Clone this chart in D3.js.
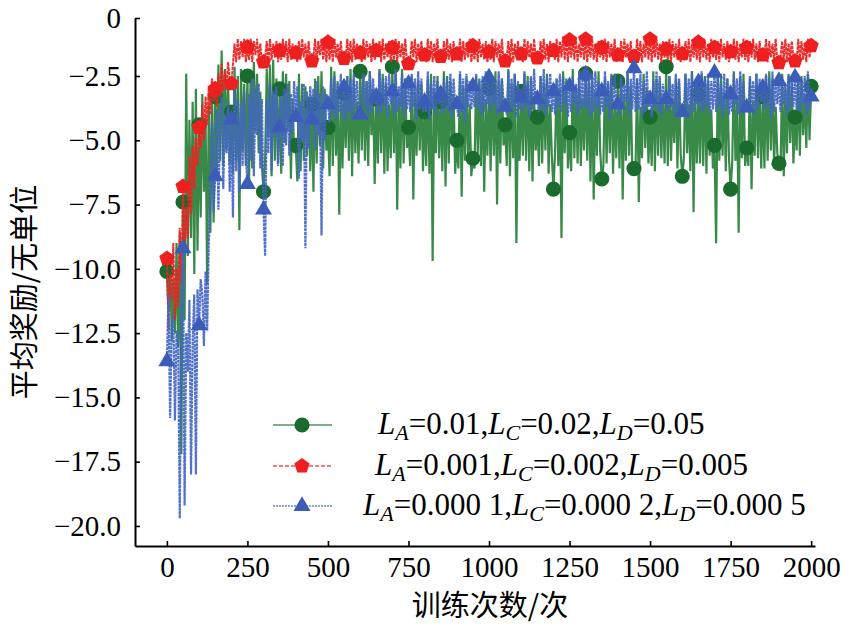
<!DOCTYPE html>
<html><head><meta charset="utf-8">
<script src="https://cdn.jsdelivr.net/npm/d3@7"></script>
<style>body{margin:0;background:#fff}svg{display:block}</style>
</head><body>
<svg id="chart" width="853" height="628"></svg>
<script>
// ---------- data (episode step 5) ----------
const episodes = d3.range(0, 2001, 5);
const xTicks = [0, 250, 500, 750, 1000, 1250, 1500, 1750, 2000];
const yTicks = [0, -2.5, -5, -7.5, -10, -12.5, -15, -17.5, -20];
const seriesNames = ["L_A=0.01,L_C=0.02,L_D=0.05", "L_A=0.001,L_C=0.002,L_D=0.005", "L_A=0.000 1,L_C=0.000 2,L_D=0.000 5"];

const green = [
-10.1,-11.6,-9.4,-12.8,-10.4,-12.5,-9.0,-13.0,-8.6,-17.2,-7.4,-12.0,-2.4,-9.5,-4.2,-8.8,-3.5,-10.2,-3.0,-9.3,
-4.4,-8.0,-3.2,-7.0,-4.0,-10.6,-3.6,-8.6,-2.9,-8.2,-3.3,-6.5,-2.0,-5.8,-1.4,-6.0,-2.2,-5.4,-2.7,-5.9,
-3.9,-6.3,-2.1,-5.8,-2.5,-8.5,-2.2,-5.4,-2.8,-6.0,-2.5,-6.6,-2.3,-6.1,-1.9,-4.7,-2.4,-5.5,-3.1,-6.0,
-7.0,-5.7,-2.2,-4.9,-2.0,-6.4,-1.8,-5.8,-2.6,-5.9,-3.0,-6.3,-2.3,-5.1,-2.4,-4.6,-2.7,-6.5,-3.4,-5.5,
-5.2,-6.6,-2.4,-6.2,-2.8,-5.8,-2.9,-5.6,-3.3,-6.2,-3.6,-7.0,-2.6,-5.9,-2.5,-5.2,-2.3,-6.1,-3.0,-5.4,
-4.5,-6.4,-2.1,-6.0,-2.3,-5.6,-2.7,-7.9,-3.4,-6.1,-3.2,-5.3,-2.5,-5.8,-2.2,-6.4,-2.6,-5.5,-3.5,-5.9,
-2.3,-5.4,-2.5,-5.8,-2.7,-6.0,-2.3,-4.8,-3.0,-6.7,-3.4,-5.9,-2.2,-5.5,-2.4,-6.3,-2.8,-6.2,-3.6,-5.7,
-2.1,-5.5,-2.4,-7.7,-3.3,-6.1,-2.2,-5.9,-2.6,-5.3,-4.5,-6.0,-2.5,-7.3,-3.1,-5.6,-2.7,-5.4,-2.8,-6.2,
-3.9,-6.0,-2.6,-6.3,-2.4,-9.7,-3.0,-5.5,-2.5,-5.7,-3.5,-6.2,-2.3,-6.8,-2.5,-5.9,-2.7,-5.1,-3.2,-6.3,
-5.0,-6.1,-2.4,-7.2,-2.9,-5.8,-2.6,-5.9,-3.6,-6.4,-5.7,-6.1,-2.5,-5.5,-2.6,-6.0,-2.8,-7.0,-3.4,-5.6,
-3.0,-6.2,-2.5,-5.6,-2.3,-7.5,-2.7,-5.9,-2.6,-5.2,-4.4,-6.0,-2.2,-6.4,-2.8,-5.7,-2.4,-9.0,-3.5,-5.8,
-3.1,-5.6,-2.3,-5.8,-2.5,-6.2,-2.6,-6.6,-3.3,-5.4,-4.1,-6.0,-2.5,-5.9,-2.8,-5.4,-2.4,-6.3,-3.6,-5.6,
-6.9,-5.5,-2.6,-6.0,-3.0,-8.8,-2.3,-5.5,-2.6,-6.1,-4.7,-6.2,-2.2,-5.7,-2.9,-5.9,-2.6,-6.0,-3.4,-5.4,
-2.4,-5.8,-2.5,-6.6,-2.7,-7.3,-3.1,-5.6,-2.3,-5.4,-6.5,-6.0,-2.6,-5.9,-2.8,-5.5,-2.4,-6.3,-3.5,-5.7,
-2.7,-6.1,-2.5,-7.3,-3.2,-5.8,-2.3,-5.6,-2.9,-6.2,-6.1,-5.9,-2.6,-7.4,-3.7,-5.7,-2.4,-5.3,-3.0,-5.9,
-4.1,-6.0,-2.3,-6.2,-2.6,-5.6,-2.7,-5.7,-3.3,-5.9,-2.1,-6.0,-2.5,-5.8,-3.4,-5.1,-2.6,-6.1,-2.7,-5.5,
-6.4,-5.7,-2.4,-5.5,-3.6,-6.2,-2.3,-7.8,-2.9,-5.9,-3.2,-5.9,-2.4,-6.0,-2.5,-6.3,-2.7,-5.6,-3.8,-6.1,
-5.2,-9.0,-2.5,-5.8,-2.4,-5.6,-3.1,-6.2,-2.6,-5.7,-6.9,-5.9,-2.3,-5.8,-3.4,-8.6,-2.5,-5.7,-2.4,-6.0,
-5.3,-6.0,-2.6,-6.9,-3.5,-5.6,-2.4,-5.7,-2.9,-6.1,-3.3,-6.1,-2.5,-5.8,-2.3,-5.4,-2.6,-6.0,-3.7,-5.5,
-5.9,-6.2,-2.4,-6.4,-3.0,-5.5,-2.5,-5.1,-2.8,-5.9,-4.1,-5.4,-2.6,-5.6,-2.5,-4.8,-3.2,-5.3,-2.4,-5.0,
-2.9];

const red = [
-9.6,-12.4,-10.2,-11.2,-9.0,-12.0,-10.0,-11.5,-8.4,-10.6,-6.8,-9.2,-7.6,-8.8,-5.6,-7.9,-5.2,-6.9,-4.9,-6.0,
-4.5,-5.3,-3.6,-5.0,-3.3,-4.4,-2.9,-4.0,-2.6,-3.5,-3.0,-3.7,-2.4,-3.3,-2.0,-3.1,-2.3,-3.0,-1.9,-2.6,
-2.8,-2.0,-1.1,-1.9,-0.9,-1.8,-1.0,-1.7,-0.9,-1.9,-1.25,-1.8,-0.9,-1.9,-1.0,-1.6,-0.9,-1.8,-1.1,-2.0,
-1.9,-1.7,-1.0,-1.9,-0.9,-1.8,-1.1,-1.7,-1.0,-1.9,-1.4,-1.8,-0.9,-1.7,-1.0,-1.9,-0.9,-1.8,-1.1,-1.6,
-1.5,-1.9,-1.0,-1.8,-0.9,-1.7,-1.1,-1.9,-1.0,-1.8,-1.85,-1.7,-0.9,-1.9,-1.0,-1.6,-0.9,-1.8,-1.1,-1.9,
-1.05,-1.8,-1.0,-1.9,-0.9,-1.7,-1.1,-1.8,-1.0,-1.9,-1.75,-1.8,-0.9,-1.7,-1.0,-1.9,-0.9,-1.8,-1.1,-1.7,
-1.5,-1.9,-0.9,-1.8,-1.0,-1.7,-1.1,-1.9,-0.9,-1.8,-1.4,-1.7,-1.0,-1.9,-0.9,-1.8,-1.1,-1.7,-1.0,-1.9,
-1.27,-1.8,-0.9,-1.9,-1.0,-1.7,-1.1,-1.8,-0.9,-1.9,-1.97,-1.8,-1.0,-1.7,-0.9,-1.9,-1.1,-1.8,-1.0,-1.7,
-1.6,-1.9,-0.9,-1.8,-1.0,-1.9,-1.1,-1.7,-0.9,-1.8,-1.66,-1.9,-1.0,-1.7,-0.9,-1.8,-1.1,-1.9,-1.0,-1.8,
-1.55,-1.7,-0.9,-1.9,-1.0,-1.8,-1.1,-1.7,-0.9,-1.9,-1.2,-1.8,-1.0,-1.9,-0.9,-1.7,-1.1,-1.8,-1.0,-1.9,
-1.46,-1.8,-0.9,-1.9,-1.0,-1.7,-1.1,-1.8,-0.9,-1.9,-1.85,-1.7,-1.0,-1.8,-0.9,-1.9,-1.1,-1.7,-1.0,-1.8,
-1.55,-1.9,-0.9,-1.8,-1.0,-1.7,-1.1,-1.9,-0.9,-1.8,-1.73,-1.9,-1.0,-1.7,-0.9,-1.8,-1.1,-1.9,-1.0,-1.7,
-1.4,-1.8,-0.9,-1.9,-1.0,-1.7,-0.8,-1.8,-0.9,-1.9,-0.95,-1.7,-1.0,-1.8,-0.9,-1.9,-1.1,-1.7,-0.8,-1.8,
-0.92,-1.9,-1.0,-1.7,-0.9,-1.8,-1.1,-1.9,-1.0,-1.7,-1.27,-1.8,-0.9,-1.9,-1.0,-1.7,-1.1,-1.8,-0.9,-1.9,
-1.6,-1.8,-1.0,-1.9,-0.9,-1.7,-1.1,-1.8,-1.0,-1.9,-1.66,-1.7,-0.9,-1.8,-1.0,-1.9,-1.1,-1.7,-0.8,-1.8,
-0.92,-1.9,-1.0,-1.7,-0.9,-1.8,-1.1,-1.9,-1.0,-1.7,-1.34,-1.8,-0.9,-1.9,-1.0,-1.7,-1.1,-1.8,-0.9,-1.9,
-1.54,-1.7,-1.0,-1.8,-0.9,-1.9,-1.1,-1.7,-1.0,-1.8,-1.05,-1.9,-0.9,-1.7,-1.0,-1.8,-1.1,-1.9,-0.9,-1.7,
-1.27,-1.8,-1.0,-1.9,-0.9,-1.7,-1.1,-1.8,-1.0,-1.9,-1.46,-1.7,-0.9,-1.8,-1.0,-1.9,-1.1,-1.7,-0.9,-1.8,
-1.27,-1.9,-1.0,-1.7,-0.9,-1.8,-1.1,-1.9,-1.0,-1.7,-1.6,-1.8,-0.9,-1.9,-1.0,-1.7,-1.1,-1.8,-0.9,-1.9,
-1.93,-1.7,-1.0,-1.8,-0.9,-1.9,-1.1,-1.7,-1.0,-1.8,-1.85,-1.9,-0.9,-1.7,-1.0,-1.8,-1.1,-1.9,-0.9,-1.7,
-1.2];

const blue = [
-13.6,-11.0,-15.8,-12.2,-11.8,-15.9,-12.4,-13.0,-19.7,-11.5,-9.2,-19.2,-12.5,-14.0,-11.2,-18.0,-12.8,-11.0,-18.0,-10.8,
-12.2,-10.4,-11.0,-13.0,-10.1,-12.4,-9.0,-7.5,-4.3,-7.8,-6.4,-3.8,-7.7,-4.2,-3.3,-6.9,-4.0,-5.5,-3.5,-7.0,
-4.2,-8.0,-3.0,-6.2,-3.4,-7.0,-3.6,-6.0,-3.1,-5.6,-6.7,-3.2,-5.8,-2.6,-6.4,-3.0,-4.8,-2.8,-6.1,-3.4,
-7.7,-9.5,-3.4,-5.5,-2.8,-6.2,-3.1,-4.8,-2.9,-6.0,-4.5,-3.3,-6.0,-3.0,-5.2,-2.8,-5.6,-3.2,-4.7,-2.7,
-4.1,-2.9,-6.5,-3.5,-5.0,-2.8,-9.2,-3.1,-5.3,-2.9,-4.2,-3.0,-5.4,-2.7,-4.8,-3.2,-8.7,-2.9,-5.0,-3.2,
-3.6,-4.3,-2.6,-4.0,-2.5,-4.2,-2.8,-3.9,-2.4,-4.1,-2.95,-4.3,-2.5,-3.9,-2.6,-4.2,-2.4,-3.8,-2.7,-4.0,
-4.0,-3.2,-2.4,-3.8,-2.7,-4.1,-2.3,-3.9,-2.6,-3.6,-3.3,-4.0,-2.3,-3.9,-2.6,-3.7,-2.5,-4.1,-2.4,-3.6,
-3.1,-4.0,-2.2,-3.9,-2.9,-3.7,-2.4,-4.0,-2.6,-3.8,-2.8,-3.9,-2.4,-3.7,-2.6,-4.2,-2.3,-3.8,-2.6,-3.9,
-3.5,-3.9,-2.3,-4.2,-2.8,-3.8,-2.5,-4.0,-2.7,-3.6,-3.2,-4.0,-2.5,-3.8,-2.7,-3.9,-2.4,-4.1,-2.6,-3.7,
-3.6,-4.1,-2.3,-3.9,-2.6,-4.3,-2.4,-3.7,-2.7,-3.8,-2.9,-3.7,-2.4,-3.8,-2.7,-4.0,-2.5,-3.9,-2.3,-3.6,
-2.56,-3.9,-2.5,-3.6,-2.8,-4.0,-2.3,-3.8,-2.6,-3.5,-3.7,-4.0,-2.3,-3.9,-2.6,-3.7,-2.4,-4.1,-2.7,-3.8,
-3.34,-3.9,-2.4,-3.7,-2.7,-4.1,-2.5,-3.8,-2.2,-3.6,-3.4,-3.9,-2.5,-3.8,-2.2,-4.0,-2.6,-3.7,-2.4,-3.9,
-3.1,-4.0,-2.6,-3.7,-2.4,-3.9,-2.5,-3.6,-2.8,-4.1,-2.9,-3.9,-2.5,-3.6,-2.8,-4.0,-2.3,-3.8,-2.6,-3.7,
-2.44,-3.8,-2.6,-4.1,-2.4,-3.9,-2.3,-3.7,-2.7,-4.0,-3.1,-3.9,-2.3,-3.7,-2.7,-4.2,-2.5,-3.8,-2.4,-3.6,
-3.6,-4.0,-2.5,-3.8,-2.8,-3.5,-2.4,-4.0,-2.6,-3.8,-2.17,-3.9,-2.6,-3.8,-2.4,-4.1,-2.7,-3.9,-2.3,-3.7,
-3.4,-4.1,-2.7,-3.7,-2.3,-3.9,-2.5,-4.0,-2.8,-3.6,-3.4,-3.9,-2.5,-3.7,-2.8,-4.0,-2.4,-3.8,-2.6,-4.1,
-3.9,-3.7,-2.4,-3.8,-2.6,-4.0,-2.3,-3.9,-2.7,-3.6,-2.75,-3.8,-2.3,-3.9,-2.6,-3.7,-2.4,-4.0,-2.7,-3.8,
-2.36,-3.9,-2.5,-3.7,-2.8,-4.1,-2.4,-3.8,-2.6,-4.0,-3.2,-3.9,-2.4,-3.6,-2.6,-4.0,-2.3,-3.8,-2.7,-3.9,
-3.73,-3.9,-2.5,-3.7,-2.7,-4.0,-2.4,-3.8,-2.6,-3.5,-2.95,-3.8,-2.4,-3.7,-2.6,-4.1,-2.3,-3.9,-2.7,-3.6,
-2.7,-3.9,-2.5,-3.6,-2.8,-4.0,-2.4,-3.8,-2.6,-3.7,-2.56,-3.8,-2.4,-3.9,-2.7,-3.6,-2.5,-4.0,-2.3,-3.8,
-3.3];

// ---------- drawing ----------
const svg = d3.select("#chart");
const x = d3.scaleLinear().domain([-99, 2012]).range([135, 815]);
// the printed axis is slightly compressed between 0 and -2.5
const y = d3.scaleLinear().domain([-20.78, -2.5, 0]).range([546, 76, 18]);
const serif = "'Liberation Serif','Times New Roman',serif";
const cjk = "'Noto Sans CJK SC','Noto Sans CJK JP',sans-serif";

const pentagon = {
  draw(ctx, size) {
    const r = Math.sqrt(size);
    for (let k = 0; k < 5; k++) {
      const a = -Math.PI / 2 + k * 2 * Math.PI / 5;
      const px = r * Math.cos(a), py = r * Math.sin(a);
      if (k === 0) ctx.moveTo(px, py); else ctx.lineTo(px, py);
    }
    ctx.closePath();
  }
};

const series = [
  {vals: green, stroke: "#237d35", width: 2.2, dash: null, opacity: 0.9, mcolor: "#1a6b2e", sym: d3.symbol(d3.symbolCircle, 180)},
  {vals: red, stroke: "#ee2222", width: 2.0, dash: "3.5,0.8", opacity: 0.95, mcolor: "#ee1f1f", sym: d3.symbol(pentagon, 64)},
  {vals: blue, stroke: "#4365c4", width: 2.2, dash: "3,0.7", opacity: 0.92, mcolor: "#3b5db8", sym: d3.symbol(d3.symbolTriangle, 125)}
];
const legendDash = [null, "4,2", "2,1"];

const line = d3.line().x((d, i) => x(episodes[i])).y(d => y(d));

series.forEach(s => {
  svg.append("path").datum(s.vals)
    .attr("d", line).attr("fill", "none")
    .attr("stroke", s.stroke).attr("stroke-width", s.width)
    .attr("stroke-opacity", s.opacity)
    .attr("stroke-dasharray", s.dash);
  svg.append("g").selectAll("path")
    .data(s.vals.map((v, i) => [episodes[i], v]).filter((d, i) => i % 10 === 0))
    .join("path")
    .attr("d", s.sym)
    .attr("transform", d => `translate(${x(d[0])},${y(d[1])})`)
    .attr("fill", s.mcolor);
});

// axes
const xAxis = d3.axisBottom(x).tickValues(xTicks).tickSize(-5).tickPadding(10).tickSizeOuter(0).tickFormat(d3.format("d"));
const yAxis = d3.axisLeft(y).tickValues(yTicks).tickSize(-5).tickPadding(14).tickSizeOuter(0)
  .tickFormat(d => d === 0 ? "0" : d3.format(".1f")(d));

const gx = svg.append("g").attr("transform", "translate(0,546)").call(xAxis);
const gy = svg.append("g").attr("transform", "translate(135,0)").call(yAxis);
[gx, gy].forEach(g => {
  g.select(".domain").attr("stroke", "#000").attr("stroke-width", 2);
  g.selectAll(".tick line").attr("stroke", "#000").attr("stroke-width", 1.6);
  g.selectAll(".tick text").attr("font-family", serif).attr("font-size", 29).attr("fill", "#000");
});

// axis titles
svg.append("text").attr("x", 490).attr("y", 616).attr("text-anchor", "middle")
  .attr("font-family", cjk).attr("font-size", 29).attr("fill", "#000").text("训练次数/次");
svg.append("text").attr("transform", "translate(35,292) rotate(-90)").attr("text-anchor", "middle")
  .attr("font-family", cjk).attr("font-size", 29).attr("fill", "#000").text("平均奖励/无单位");

// legend
const legendRows = [425, 466, 506];
const legendTextX = [378, 375, 363];
series.forEach((s, i) => {
  const ly = legendRows[i];
  svg.append("line").attr("x1", 273).attr("x2", 332).attr("y1", ly).attr("y2", ly)
    .attr("stroke", s.stroke).attr("stroke-width", 1.6).attr("stroke-opacity", 0.8)
    .attr("stroke-dasharray", legendDash[i]);
  svg.append("path").attr("d", s.sym).attr("transform", `translate(302,${ly})`).attr("fill", s.mcolor);
  const t = svg.append("text").attr("x", legendTextX[i]).attr("y", ly + 9)
    .attr("font-family", serif).attr("font-size", 31).attr("fill", "#000");
  const parts = seriesNames[i].split(/(L_[A-Z])/).filter(p => p.length);
  parts.forEach(p => {
    if (p.startsWith("L_")) {
      t.append("tspan").attr("font-style", "italic").text("L");
      t.append("tspan").attr("font-style", "italic").attr("font-size", 22).attr("dy", 6).text(p[2]);
    } else {
      t.append("tspan").attr("dy", -6).text(p);
    }
  });
});
</script>
</body></html>
